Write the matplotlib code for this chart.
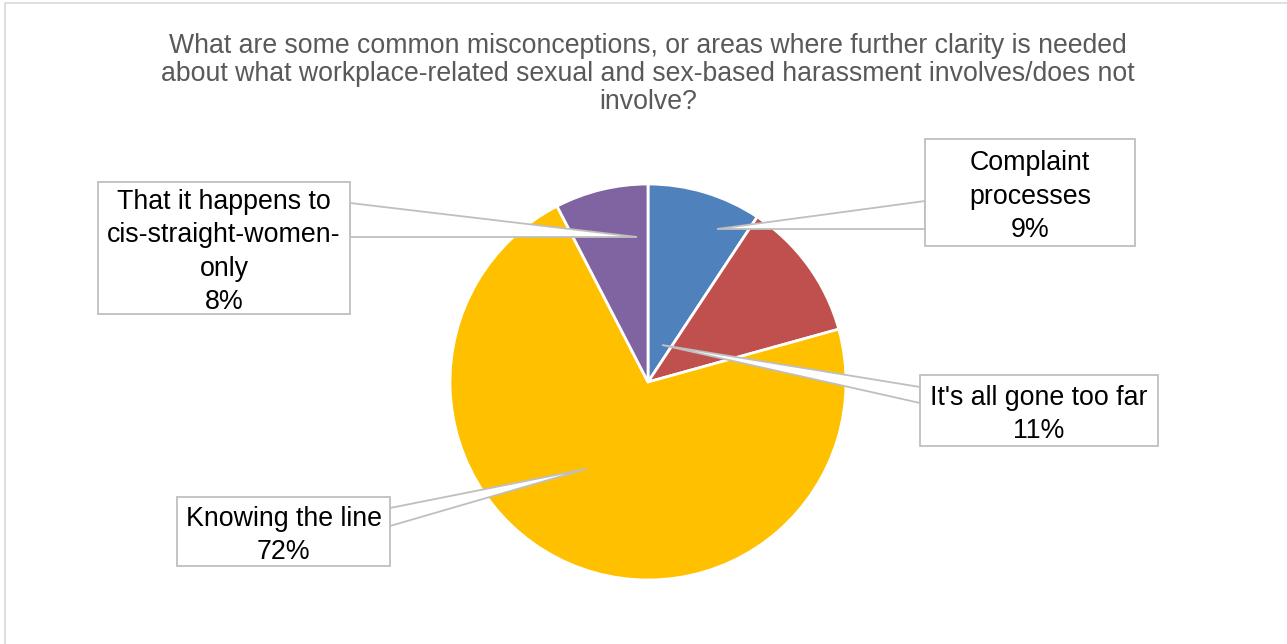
import matplotlib.pyplot as plt
from matplotlib.patches import Polygon, Rectangle

W, H = 1287, 644

# data (shares in %)
categories = ["Complaint\nprocesses", "It's all gone too far", "Knowing the line",
              "That it happens to\ncis-straight-women-\nonly"]
shares = [9.3, 11.4, 71.7, 7.6]
colors = ['#4F81BD', '#C0504D', '#FFC000', '#8064A2']
title = ("What are some common misconceptions, or areas where further clarity is needed\n"
         "about what workplace-related sexual and sex-based harassment involves/does not\n"
         "involve?")

# label boxes (pixel layout): left, top, right, bottom, callout tip, callout base y's
boxes = [
    dict(box=(925, 139, 1135, 246), tip=(717, 229), side='left', base=(201, 229)),
    dict(box=(920, 375, 1158, 446), tip=(662, 345), side='left', base=(387, 403)),
    dict(box=(177, 497, 390, 566), tip=(586, 469), side='right', base=(508, 526)),
    dict(box=(98, 182, 350, 314), tip=(637, 237), side='right', base=(203, 237)),
]

plt.rcParams['font.family'] = ['Liberation Sans', 'DejaVu Sans']

fig = plt.figure(figsize=(W / 100, H / 100), dpi=100)
ax = fig.add_axes([0, 0, 1, 1])


def px(x, y):
    return (x, H - y)


ax.pie(shares, colors=colors, startangle=90, counterclock=False,
       center=px(648, 382), radius=198, frame=True,
       wedgeprops=dict(edgecolor='white', linewidth=2))

for cat, val, b in zip(categories, shares, boxes):
    l, t, r, bt = b['box']
    bx = l if b['side'] == 'left' else r
    pts = [px(bx, b['base'][0]), px(*b['tip']), px(bx, b['base'][1])]
    ax.add_patch(Polygon(pts, closed=True, facecolor='white', edgecolor='#BFBFBF',
                         linewidth=1.3, zorder=3))
    ax.add_patch(Rectangle(px(l, bt), r - l, bt - t, facecolor='white',
                           edgecolor='#BFBFBF', linewidth=1.3, zorder=4))
    ax.text((l + r) / 2, H - (t + bt) / 2 - 4, f"{cat}\n{val:.0f}%", ha='center', va='center',
            fontsize=19.3, linespacing=1.37, color='black', zorder=5)

ax.text(648, H - 74, title, ha='center', va='center', fontsize=19.2,
        linespacing=1.12, color='#595959')

ax.add_patch(Rectangle(px(5, H + 10), W + 10, H + 7, fill=False,
                       edgecolor='#D9D9D9', linewidth=1.2))

ax.set_xlim(0, W)
ax.set_ylim(0, H)
ax.axis('off')

fig.savefig('out.png', dpi=100)
